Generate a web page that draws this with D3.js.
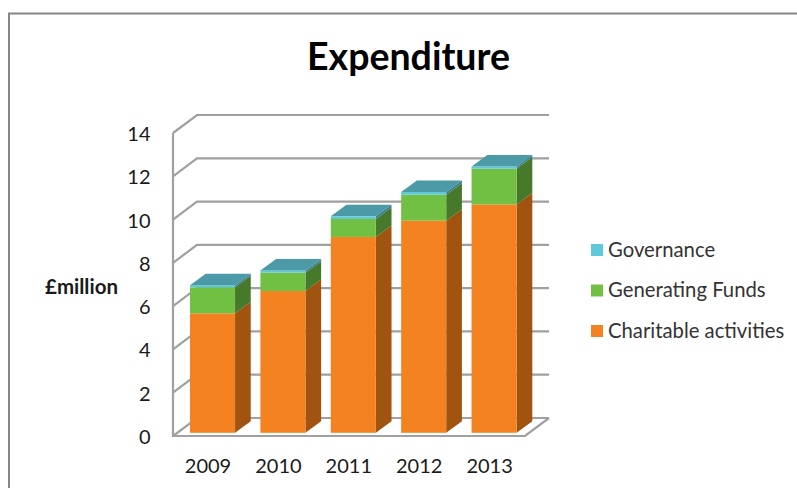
<!DOCTYPE html>
<html>
<head>
<meta charset="utf-8">
<script src="https://cdn.jsdelivr.net/npm/d3@7"></script>
<style>
html,body{margin:0;padding:0;background:#fff;overflow:hidden}
svg{display:block}
text{font-family:Lato,"Open Sans",sans-serif;fill:#1a1a1a}
</style>
</head>
<body>
<svg id="chart" width="797" height="488"></svg>
<script>
const years = ["2009","2010","2011","2012","2013"];
const charitable = [5.52,6.55,9.05,9.8,10.55];
const generating = [1.2,0.85,0.83,1.2,1.65];
const governance = [0.1,0.1,0.12,0.13,0.1];
const axisTicks = [0,2,4,6,8,10,12,14];
const seriesNames = ["Charitable activities","Generating Funds","Governance"];
const frontColors = ["#f58220","#72c043","#5dc9d9"];
const sideColors = ["#a0540f","#47792b","#3f7f8c"];
const topColor = "#4c9aa7";
const gridColor = "#a0a0a0";

const svg = d3.select("#chart");

// Outer chart frame, open on the right and bottom
svg.append("path").attr("d","M9,488V13.5H797")
  .attr("fill","none").attr("stroke","#868686").attr("stroke-width",2);

// Walls: the front plane and the back plane are offset in depth
const wall = {dx:24, dy:-18};
const y = d3.scaleLinear().domain([0,14]).range([436,133]);
const plotLeft = 173, plotRight = 525;

// Gridlines wrap from the left wall onto the back wall
const grid = svg.append("g").attr("fill","none").attr("stroke",gridColor).attr("stroke-width",2.2);
grid.selectAll("path").data(axisTicks).join("path")
  .attr("d",d=>{
    const p = d3.path();
    p.moveTo(plotLeft,y(d));
    p.lineTo(plotLeft+wall.dx,y(d)+wall.dy);
    p.lineTo(plotRight+wall.dx,y(d)+wall.dy);
    return p.toString();
  });
grid.append("path").attr("d",`M${plotLeft},${y(14)}V${y(0)}H${plotRight}L${plotRight+wall.dx},${y(0)+wall.dy}`);

svg.append("g").selectAll("text").data(axisTicks).join("text")
  .attr("x",150.5).attr("y",d=>y(d)+8).attr("text-anchor","end")
  .attr("font-size",20).text(d=>d);

// Bars stand mid-depth, so their baseline sits just above the front floor edge
const barBase = 432.8;
const yBar = d3.scaleLinear().domain([0,14]).range([barBase,barBase-303]);
const x = d3.scaleBand().domain(years).range([172.4,534.2]).paddingInner(0.36).paddingOuter(0.25);
const depth = {dx:15.7, dy:-11.5};

const rows = years.map((yr,i)=>({year:yr,c:charitable[i],g:generating[i],v:governance[i]}));
const stacked = d3.stack().keys(["c","g","v"])(rows);

const bars = svg.append("g");
stacked.forEach((layer,k)=>{
  const g = bars.append("g");
  layer.forEach(seg=>{
    const x0 = x(seg.data.year), x1 = x0+x.bandwidth();
    const yb = yBar(seg[0]), yt = yBar(seg[1]);
    g.append("path").attr("fill",sideColors[k])
      .attr("d",`M${x1},${yb}L${x1+depth.dx},${yb+depth.dy}V${yt+depth.dy}L${x1},${yt}Z`);
    g.append("rect").attr("fill",frontColors[k])
      .attr("x",x0).attr("y",yt).attr("width",x.bandwidth()).attr("height",yb-yt);
    if(k===stacked.length-1){
      g.append("path").attr("fill",topColor)
        .attr("d",`M${x0},${yt}L${x0+depth.dx},${yt+depth.dy}H${x1+depth.dx}L${x1},${yt}Z`);
    }
  });
});

// Year labels sit a little left of the bar fronts
svg.append("g").selectAll("text").data(years).join("text")
  .attr("x",d=>x(d)+x.bandwidth()/2-4.5).attr("y",473).attr("text-anchor","middle")
  .attr("font-size",20).text(d=>d);

svg.append("text").attr("x",408.5).attr("y",70).attr("text-anchor","middle")
  .attr("font-size",37.5).attr("font-weight",700).style("fill","#000").text("Expenditure");

svg.append("text").attr("x",45).attr("y",294)
  .attr("font-size",20.5).attr("font-weight",700).text("£million");

// Legend lists the stack from top to bottom
const legendY = d3.scalePoint().domain(seriesNames.slice().reverse()).range([250,331]);
const legend = svg.append("g").selectAll("g").data(seriesNames.slice().reverse()).join("g")
  .attr("transform",d=>`translate(591,${legendY(d)})`);
legend.append("rect").attr("y",-6).attr("width",12).attr("height",12)
  .attr("fill",d=>frontColors[seriesNames.indexOf(d)]);
legend.append("text").attr("x",17).attr("y",6.5).attr("font-size",20.3).style("fill","#333").text(d=>d);
</script>
</body>
</html>
